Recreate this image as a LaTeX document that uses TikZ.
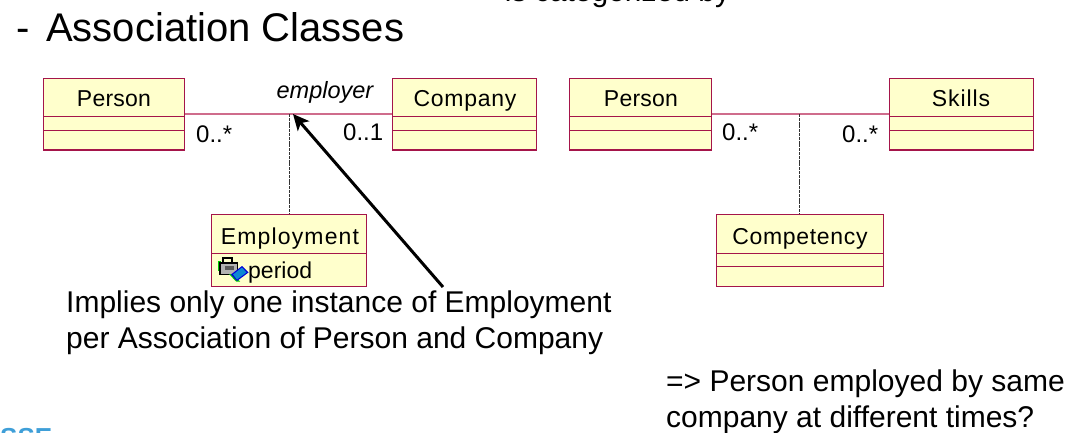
\documentclass[tikz,border=0pt]{standalone}
\usepackage{fontspec}
\usetikzlibrary{arrows.meta}
\setmainfont{Liberation Sans}
\definecolor{boxline}{HTML}{A5154A}
\definecolor{boxfill}{HTML}{FFFFCC}
\definecolor{assoc}{HTML}{CF6C8C}
\definecolor{logoblue}{HTML}{3F9FD8}
\newcommand{\spaced}[1]{\addfontfeature{LetterSpace=#1}}
\tikzset{
  x=1pt,y=-1pt,
  classbox/.style={draw=boxline,fill=boxfill,line width=1.2pt,rectangle,inner sep=0pt,minimum height=71.5pt,anchor=north west},
  classname/.style={font=\fontsize{23}{25}\selectfont,inner sep=0pt,anchor=base},
  divider/.style={draw=boxline,line width=0.9pt},
  assocline/.style={draw=assoc,line width=1.3pt},
  dashline/.style={draw=black!80,line width=1.1pt,dash pattern=on 3pt off 0.8pt},
  mult/.style={font=\fontsize{24}{26}\selectfont,inner sep=0pt,anchor=base west},
  note/.style={font=\fontsize{30}{36}\selectfont,inner sep=0pt,anchor=base west},
  heading/.style={font=\fontsize{40}{44}\selectfont,inner sep=0pt,anchor=base west},
}
\begin{document}
\begin{tikzpicture}
\useasboundingbox (0,0) rectangle (1090,433);
\clip (0,0) rectangle (1090,433);
% clipped slide remains
\node[font=\fontsize{30}{36}\selectfont,inner sep=0pt,anchor=base] (cut) at (617.5,2) {is categorized by};
\node[font=\bfseries\fontsize{26}{30}\selectfont,text=logoblue,inner sep=0pt,anchor=base west] (logo) at (0,446) {SSE};
% title
\node[heading] (dash) at (16,42) {-};
\node[heading] (title) at (46,42) {Association Classes};
% class boxes
\node[classbox,minimum width=140.5pt] (p1) at (43,78) {};
\node[classbox,minimum width=143.5pt] (c1) at (392,78) {};
\node[classbox,minimum width=141.5pt] (p2) at (569,78) {};
\node[classbox,minimum width=143.5pt] (s1) at (889,78) {};
\node[classbox,minimum width=154.5pt] (e1) at (211,214) {};
\node[classbox,minimum width=166.5pt] (k1) at (716,214) {};
% dividers
\foreach \b in {p1,c1,p2,s1}{
  \draw[divider] (\b.west |- 0,116) -- (\b.east |- 0,116);
  \draw[divider] (\b.west |- 0,130) -- (\b.east |- 0,130);
}
\draw[divider] (e1.west |- 0,253) -- (e1.east |- 0,253);
\draw[divider] (k1.west |- 0,253) -- (k1.east |- 0,253);
\draw[divider] (k1.west |- 0,266) -- (k1.east |- 0,266);
% names
\node[classname] (n1) at (114,107) {\spaced{1}Person};
\node[classname] (n2) at (465,107) {\spaced{3}Company};
\node[classname] (n3) at (641,107) {\spaced{1}Person};
\node[classname] (n4) at (961,107) {\spaced{4}Skills};
\node[classname] (n5) at (290,244) {\spaced{5}Employment};
\node[classname] (n6) at (800,244.5) {\spaced{3}Competency};
\node[font=\fontsize{23}{25}\selectfont,inner sep=0pt,anchor=base west] (attr) at (248,278) {period};
% associations
\draw[assocline] (p1.east |- 0,114) -- (c1.west |- 0,114);
\draw[assocline] (p2.east |- 0,114) -- (s1.west |- 0,114);
\draw[dashline] (289.5,114) -- (e1.north -| 289.5,0);
\draw[dashline] (k1.north |- 0,114) -- (k1.north);
% labels
\node[font=\itshape\fontsize{23.5}{26}\selectfont,inner sep=0pt,anchor=base] (emp) at (325,99) {employer};
\node[mult] (m1) at (196,143) {0..*};
\node[mult] (m2) at (343,141) {0..1};
\node[mult] (m3) at (722,141) {0..*};
\node[mult] (m4) at (842,143) {0..*};
% lock-and-book icon
\begin{scope}[shift={(217,256)}]
  \fill[green!80!black] (0.5,5) rectangle (4,15);
  \fill[black] (2,6) rectangle (21,19);
  \fill[gray!60] (3.5,7.5) rectangle (19.5,17.5);
  \fill[black!65] (8,10) rectangle (17,14);
  \draw[black,line width=2pt] (6,6) -- (6,1.5) -- (15,1.5) -- (15,6);
  \fill[green!80!black] (12,18) -- (19,25.5) -- (23,25.5) -- (16,18) -- cycle;
  \fill[blue!85!black] (14,18.5) -- (25,10) -- (31.5,16.5) -- (20,25) -- cycle;
  \fill[cyan!70!blue] (16,18.5) -- (25,11.5) -- (29.5,16.5) -- (20,23.5) -- cycle;
\end{scope}
% annotation
\coordinate (arrowstart) at (443,287);
\coordinate (arrowend) at (293,114);
\draw[black,line width=3pt,-{Stealth[length=16pt,width=15pt,inset=4pt]}] (arrowstart) -- (arrowend);
\node[note] (t1) at (66,312) {Implies only one instance of Employment};
\node[note] (t2) at (66,348) {per Association of Person and Company};
\node[note] (t3) at (666,391) {=> Person employed by same};
\node[note] (t4) at (666,427) {company at different times?};
\end{tikzpicture}
\end{document}
